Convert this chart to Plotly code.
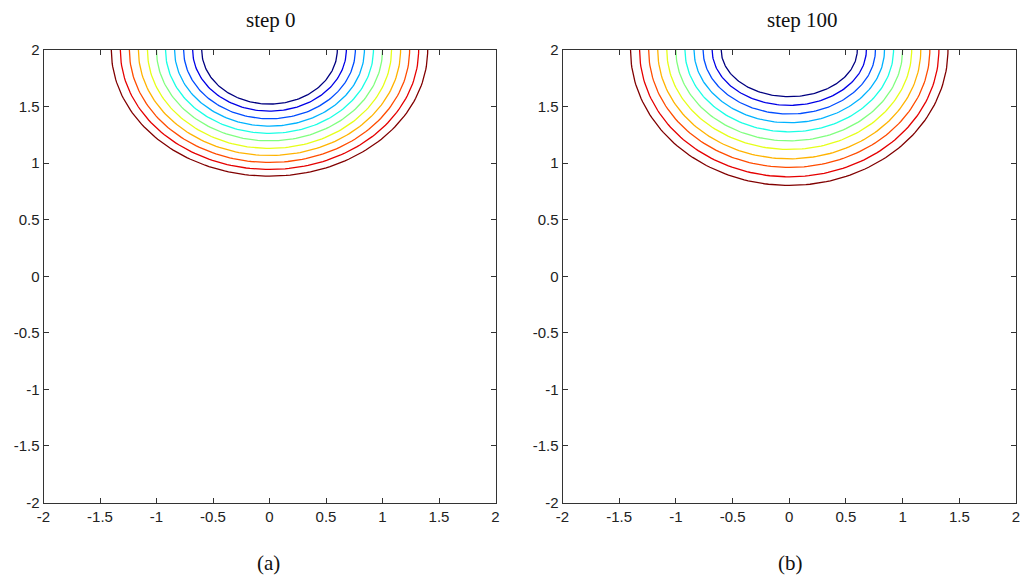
import numpy as np
import plotly.graph_objects as go

# Contour levels (11 lines, innermost to outermost)
levels = [0.60, 0.68, 0.76, 0.84, 0.92, 1.00, 1.08, 1.16, 1.24, 1.32, 1.40]
# Half-width of each contour where it meets the top edge y=2
halfwidth_a = [0.60, 0.68, 0.76, 0.84, 0.92, 1.00, 1.08, 1.16, 1.24, 1.32, 1.40]
halfwidth_b = [0.60, 0.68, 0.76, 0.84, 0.92, 1.00, 1.08, 1.16, 1.24, 1.32, 1.40]
# Depth below y=2 reached by each contour at x=0
depth_a = [0.478, 0.540, 0.608, 0.673, 0.737, 0.803, 0.870, 0.932, 0.994, 1.056, 1.115]
depth_b = [0.413, 0.489, 0.566, 0.643, 0.723, 0.803, 0.879, 0.962, 1.038, 1.121, 1.197]
titles = ["step 0", "step 100"]
captions = ["(a)", "(b)"]
tickvals = [-2, -1.5, -1, -0.5, 0, 0.5, 1, 1.5, 2]
ticktext = ["-2", "-1.5", "-1", "-0.5", "0", "0.5", "1", "1.5", "2"]
y_top = 2.0


def jet(t):
    # MATLAB-style jet colormap
    r = np.clip(1.5 - abs(4 * t - 3), 0, 1)
    g = np.clip(1.5 - abs(4 * t - 2), 0, 1)
    b = np.clip(1.5 - abs(4 * t - 1), 0, 1)
    return "rgb(%d,%d,%d)" % (round(r * 255), round(g * 255), round(b * 255))


fig = go.Figure()
theta = np.linspace(np.pi, 2 * np.pi, 121)
lmin, lmax = min(levels), max(levels)

panels = [("x", "y", halfwidth_a, depth_a), ("x2", "y2", halfwidth_b, depth_b)]
for xa, ya, hw, dp in panels:
    for lev, a, b in zip(levels, hw, dp):
        t = (lev - lmin) / (lmax - lmin)
        fig.add_trace(go.Scatter(
            x=a * np.cos(theta), y=y_top + b * np.sin(theta),
            mode="lines", line=dict(color=jet(t), width=1.3),
            xaxis=xa, yaxis=ya, showlegend=False, hoverinfo="skip"))

W, H = 1021, 579
xdom = [[43.5 / W, 495.5 / W], [562.5 / W, 1016 / W]]
ydom = [1 - 502.5 / H, 1 - 50 / H]

axis_style = dict(
    range=[-2, 2], tickmode="array", tickvals=tickvals, ticktext=ticktext,
    ticks="inside", ticklen=5, tickcolor="#333333", showline=True,
    linecolor="#333333", linewidth=1, mirror="ticks", showgrid=False,
    zeroline=False, automargin=False,
    tickfont=dict(family="Liberation Sans, Arial", size=15, color="#222222"),
)

fig.update_layout(
    template="none",
    width=W, height=H, margin=dict(l=0, r=0, t=0, b=0, pad=0),
    paper_bgcolor="white", plot_bgcolor="white",
    xaxis=dict(domain=xdom[0], anchor="y", **axis_style),
    yaxis=dict(domain=ydom, anchor="x", **axis_style),
    xaxis2=dict(domain=xdom[1], anchor="y2", **axis_style),
    yaxis2=dict(domain=ydom, anchor="x2", **axis_style),
)

title_x = [270.5 / W, 802 / W]
cap_x = [268 / W, 790 / W]
for i in range(2):
    fig.add_annotation(text=titles[i], x=title_x[i], y=1 - 20 / H, xref="paper", yref="paper",
                       showarrow=False, xanchor="center", yanchor="middle",
                       font=dict(family="Liberation Serif, Times New Roman", size=21, color="#111111"))
    fig.add_annotation(text=captions[i], x=cap_x[i], y=1 - 563 / H, xref="paper", yref="paper",
                       showarrow=False, xanchor="center", yanchor="middle",
                       font=dict(family="Liberation Serif, Times New Roman", size=21, color="#111111"))

fig.write_html("out.html")
